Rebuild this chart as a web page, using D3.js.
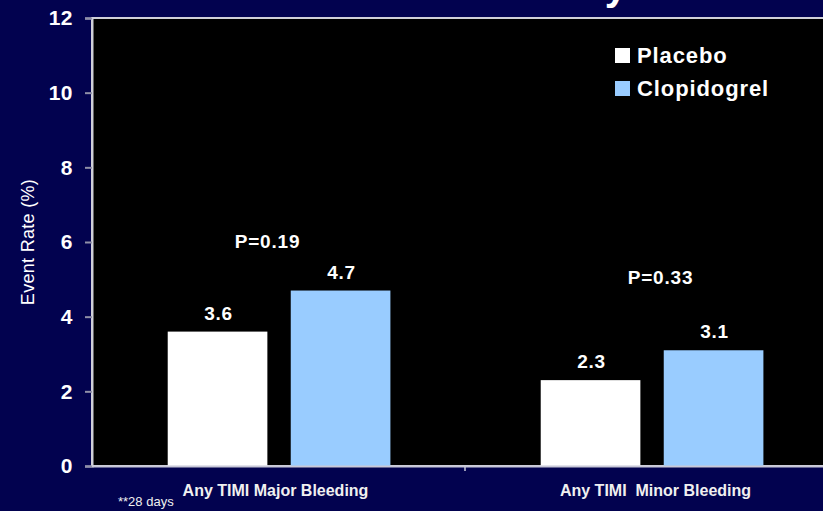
<!DOCTYPE html>
<html>
<head>
<meta charset="utf-8">
<script src="https://cdn.jsdelivr.net/npm/d3@7/dist/d3.min.js"></script>
<style>
  html, body { margin: 0; padding: 0; background: #02024f; overflow: hidden; }
  svg { display: block; font-family: "Liberation Sans", Arial, sans-serif; }
</style>
</head>
<body>
<svg id="chart" width="823" height="511"></svg>
<script>
// Bleeding endpoints by treatment arm
const categories = ["Any TIMI Major Bleeding", "Any TIMI  Minor Bleeding"];
const seriesNames = ["Placebo", "Clopidogrel"];
const placebo = [3.6, 2.3];
const clopidogrel = [4.7, 3.1];
const pValues = ["P=0.19", "P=0.33"];
const yTicks = [0, 2, 4, 6, 8, 10, 12];
const footnote = "**28 days";
const yTitle = "Event Rate (%)";

const colors = { Placebo: "#ffffff", Clopidogrel: "#99ccff" };
const plotLeft = 92, plotTop = 18, plotBottom = 466, plotRight = 838;

const svg = d3.select("#chart");

// Slide title runs above the visible area; only its descender shows
svg.append("text")
  .attr("x", 627).attr("y", 0)
  .attr("text-anchor", "end")
  .attr("fill", "#fff")
  .attr("font-weight", "bold")
  .attr("font-size", 40)
  .text("y");

const y = d3.scaleLinear().domain([0, 12]).range([plotBottom, plotTop]);
const x0 = d3.scaleBand().domain(categories).range([plotLeft, plotRight]).padding(0);
const bw0 = x0.bandwidth();
const x1 = d3.scaleBand().domain(seriesNames)
  .range([bw0 * 0.203, bw0 * 0.8]).paddingInner(0.19);

// Plot area
svg.append("rect")
  .attr("x", plotLeft).attr("y", plotTop)
  .attr("width", plotRight - plotLeft).attr("height", plotBottom - plotTop)
  .attr("fill", "#000")
  .attr("stroke", "#d0d0d8").attr("stroke-width", 2);

const rows = categories.map((c, i) => ({
  cat: c,
  vals: [{ s: "Placebo", v: placebo[i] }, { s: "Clopidogrel", v: clopidogrel[i] }],
  p: pValues[i]
}));

const g = svg.selectAll("g.grp").data(rows).enter().append("g")
  .attr("class", "grp")
  .attr("transform", d => `translate(${x0(d.cat)},0)`);

g.selectAll("rect").data(d => d.vals).enter().append("rect")
  .attr("x", d => x1(d.s))
  .attr("y", d => y(d.v))
  .attr("width", x1.bandwidth())
  .attr("height", d => y(0) - y(d.v))
  .attr("fill", d => colors[d.s]);

g.selectAll("text.val").data(d => d.vals).enter().append("text")
  .attr("class", "val")
  .attr("x", d => x1(d.s) + x1.bandwidth() / 2 + 1)
  .attr("y", d => y(d.v) - 12)
  .attr("text-anchor", "middle")
  .attr("fill", "#fff")
  .attr("font-weight", "bold")
  .attr("font-size", 19)
  .attr("letter-spacing", 0.8)
  .text(d => d.v.toFixed(1));

// P-value annotations above each pair
const pOffset = [{ dx: -11, dy: 218 }, { dx: 9, dy: 182 }];
g.append("text")
  .attr("x", (d, i) => bw0 / 2 + pOffset[i].dx)
  .attr("y", (d, i) => plotBottom - pOffset[i].dy)
  .attr("text-anchor", "middle")
  .attr("fill", "#fff")
  .attr("font-weight", "bold")
  .attr("font-size", 19)
  .attr("letter-spacing", 0.8)
  .text(d => d.p);

// Y axis
const yAxis = svg.append("g")
  .attr("transform", `translate(${plotLeft},0)`)
  .call(d3.axisLeft(y).tickValues(yTicks).tickSize(7).tickPadding(12).tickFormat(d3.format("d")));
yAxis.select(".domain").attr("stroke", "#d0d0d8").attr("stroke-width", 2);
yAxis.selectAll(".tick line").attr("stroke", "#9090a8").attr("stroke-width", 2);
yAxis.selectAll(".tick text")
  .attr("fill", "#fff")
  .attr("font-family", "Liberation Sans, Arial, sans-serif")
  .attr("font-weight", "bold")
  .attr("font-size", 21)
  .attr("letter-spacing", 0.5);

// X axis
const xAxis = svg.append("g")
  .attr("transform", `translate(0,${plotBottom})`)
  .call(d3.axisBottom(x0).tickSize(0).tickFormat(""));
xAxis.select(".domain").attr("stroke", "#c8c8d8").attr("stroke-width", 2);
xAxis.selectAll(".tick").remove();
// category separators
svg.selectAll("line.sep").data(categories.slice(1)).enter().append("line")
  .attr("x1", d => x0(d)).attr("x2", d => x0(d))
  .attr("y1", plotBottom).attr("y2", plotBottom + 5)
  .attr("stroke", "#c8c8d8").attr("stroke-width", 1.5);

svg.selectAll("text.cat").data(categories).enter().append("text")
  .attr("class", "cat")
  .attr("x", (d, i) => x0(d) + bw0 / 2 + (i === 0 ? -3 : 4))
  .attr("y", plotBottom + 30)
  .attr("text-anchor", "middle")
  .attr("fill", "#f0f0f0")
  .attr("font-weight", "bold")
  .attr("font-size", 16)
  .attr("xml:space", "preserve")
  .style("white-space", "pre")
  .text(d => d);

svg.append("text")
  .attr("x", 118).attr("y", 506)
  .attr("fill", "#f0f0f0")
  .attr("font-size", 13)
  .text(footnote);

svg.append("text")
  .attr("transform", `translate(34,242) rotate(-90)`)
  .attr("text-anchor", "middle")
  .attr("fill", "#fff")
  .attr("font-size", 18)
  .attr("letter-spacing", 0.3)
  .text(yTitle);

// Legend
const leg = svg.selectAll("g.leg").data(seriesNames).enter().append("g")
  .attr("class", "leg")
  .attr("transform", (d, i) => `translate(615,${48 + i * 33})`);
leg.append("rect")
  .attr("width", 15).attr("height", 15)
  .attr("fill", d => colors[d]);
leg.append("text")
  .attr("x", 22).attr("y", 15)
  .attr("fill", "#fff")
  .attr("font-weight", "bold")
  .attr("font-size", 22)
  .attr("letter-spacing", 0.9)
  .text(d => d);
</script>
</body>
</html>
